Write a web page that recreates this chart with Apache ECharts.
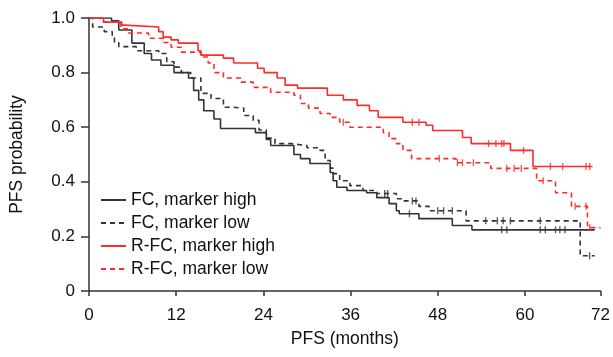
<!DOCTYPE html>
<html>
<head>
<meta charset="utf-8">
<script src="https://cdn.jsdelivr.net/npm/echarts@6/dist/echarts.min.js"></script>
<style>
  html, body { margin: 0; padding: 0; background: #fff; }
  #chart { width: 613px; height: 357px; }
</style>
</head>
<body>
<div id="chart"></div>
<script>
// x axis: ticks every 12 months; the drawn axis stops a bit short of 72
// (as in the source figure) and its end tick carries the label "72"
const xTickStep = 12;
const xAxisEnd = 70.4;
const xEndLabel = "72";

// Kaplan-Meier steps: [month, PFS probability from that month on]
const fcHigh = [
  [0, 1], [3.1, 0.99], [4.1, 0.956], [5.9, 0.908], [7.6, 0.87], [8.6, 0.846], [9.9, 0.827],
  [11.7, 0.8], [13.7, 0.78], [14.4, 0.735], [15.1, 0.7], [15.8, 0.66], [17.2, 0.63], [18.1, 0.595],
  [22.9, 0.58], [24.4, 0.555], [25.0, 0.533], [28.2, 0.5], [29.1, 0.485], [30.4, 0.467],
  [33.2, 0.434], [33.6, 0.404], [34.1, 0.38], [35.5, 0.368], [38.2, 0.36], [39.6, 0.342],
  [41.3, 0.32], [42.3, 0.294], [42.7, 0.283], [45.4, 0.265], [50.0, 0.24], [52.7, 0.224],
  [69.6, 0.224]
];
const fcLow = [
  [0, 1], [0.5, 0.967], [2.1, 0.95], [3.2, 0.93], [3.5, 0.91], [4.1, 0.895], [6.5, 0.88],
  [9.6, 0.87], [10.7, 0.84], [11.7, 0.82], [12.7, 0.8], [14.0, 0.78], [15.4, 0.724], [16.8, 0.705],
  [18.5, 0.673], [19.9, 0.67], [21.3, 0.643], [22.6, 0.625], [23.4, 0.59], [24.4, 0.56],
  [25.6, 0.54], [27.7, 0.533], [30.0, 0.525], [31.8, 0.515], [32.5, 0.478], [33.2, 0.45],
  [33.6, 0.43], [34.5, 0.404], [35.9, 0.386], [37.7, 0.368], [39.6, 0.357], [42.3, 0.338],
  [43.2, 0.33], [45.4, 0.31], [46.8, 0.294], [51.9, 0.257], [67.6, 0.129], [69.6, 0.129]
];
const rfcHigh = [
  [0, 1], [2.0, 0.985], [4.5, 0.974], [4.9, 0.967], [9.6, 0.95], [10.2, 0.93], [11.3, 0.92],
  [12.3, 0.908], [15.0, 0.88], [15.4, 0.864], [18.5, 0.853], [19.9, 0.835], [23.2, 0.816],
  [24.1, 0.8], [25.9, 0.78], [27.0, 0.754], [28.7, 0.743], [32.8, 0.717], [35.0, 0.7],
  [36.9, 0.68], [38.6, 0.66], [39.8, 0.636], [43.2, 0.618], [46.4, 0.607], [47.3, 0.588],
  [51.4, 0.562], [52.6, 0.54], [58.0, 0.515], [61.1, 0.456], [69.3, 0.456]
];
const rfcLow = [
  [0, 1], [2.0, 0.985], [4.4, 0.96], [5.4, 0.945], [8.2, 0.926], [10.2, 0.91], [11.3, 0.893],
  [12.7, 0.875], [15.4, 0.857], [16.4, 0.835], [17.2, 0.8], [18.5, 0.78], [20.9, 0.765],
  [22.6, 0.746], [25.0, 0.728], [28.2, 0.717], [29.1, 0.687], [30.2, 0.67], [31.8, 0.65],
  [33.2, 0.636], [34.5, 0.618], [35.9, 0.6], [40.5, 0.58], [41.3, 0.558], [42.3, 0.54],
  [43.2, 0.515], [44.4, 0.485], [50.5, 0.47], [55.3, 0.449], [61.6, 0.404], [64.2, 0.36],
  [66.4, 0.31], [68.6, 0.232], [70.4, 0.232]
];

// censored observations (tick marks)
const fcHighCens = [[44.1, 0.283], [56.8, 0.224], [57.5, 0.224], [62.1, 0.224], [62.8, 0.224],
  [64.2, 0.224], [64.8, 0.224], [65.5, 0.224]];
const fcLowCens = [[40.7, 0.357], [41.1, 0.357], [44.5, 0.33], [45.0, 0.33], [48.0, 0.294],
  [48.8, 0.294], [50.0, 0.294], [54.6, 0.257], [56.2, 0.257], [57.0, 0.257], [58.0, 0.257],
  [62.1, 0.257], [68.9, 0.129]];
const rfcHighCens = [[44.5, 0.618], [45.4, 0.618], [55.0, 0.54], [56.0, 0.54], [56.8, 0.54],
  [57.1, 0.54], [59.8, 0.515], [63.5, 0.456], [65.2, 0.456], [68.4, 0.456], [68.9, 0.456]];
const rfcLowCens = [[35.0, 0.618], [48.2, 0.485], [50.7, 0.47], [51.4, 0.47], [52.9, 0.47],
  [57.5, 0.449], [58.5, 0.449], [59.5, 0.449], [62.5, 0.404], [66.9, 0.31], [68.4, 0.31],
  [68.9, 0.232]];

const groupNames = ["FC, marker high", "FC, marker low", "R-FC, marker high", "R-FC, marker low"];

const black = "#333333";
const red = "#ff2a2a";
const font = "Liberation Sans, Arial, sans-serif";

const chart = echarts.init(document.getElementById("chart"));

const kmLine = (name, data, color, dashed) => ({
  name: name,
  type: "line",
  step: "end",
  data: data,
  symbol: "none",
  z: 3,
  lineStyle: { color: color, width: 1.6, type: dashed ? [5, 4] : "solid" },
  itemStyle: { color: color },
  animation: false
});

const censMarks = (data, color) => ({
  type: "scatter",
  data: data,
  symbol: "rect",
  symbolSize: [1.4, 7],
  itemStyle: { color: color },
  silent: true,
  z: 4,
  animation: false
});

chart.setOption({
  backgroundColor: "#fff",
  textStyle: { fontFamily: font },
  grid: { left: 87, right: 11, top: 18, bottom: 66 },
  legend: {
    data: groupNames,
    orient: "vertical",
    left: 100,
    top: 191,
    padding: 0,
    itemWidth: 25,
    itemHeight: 12,
    itemGap: 5,
    itemTextGap: 7,
    itemStyle: { opacity: 0 },
    textStyle: { fontSize: 17.5, color: "#111", fontFamily: font }
  },
  xAxis: {
    type: "value",
    min: 0,
    max: xAxisEnd,
    interval: xTickStep,
    name: "PFS (months)",
    nameLocation: "middle",
    nameGap: 39,
    nameTextStyle: { fontSize: 17.5, color: "#111", fontFamily: font },
    axisLine: { lineStyle: { color: black, width: 1.5 } },
    axisTick: { show: true, inside: false, length: 5, lineStyle: { color: black, width: 1.5 } },
    axisLabel: {
      fontSize: 17, color: "#111", margin: 16,
      showMaxLabel: true,
      formatter: v => (v === xAxisEnd ? xEndLabel : String(v))
    },
    splitLine: { show: false }
  },
  yAxis: {
    type: "value",
    min: 0,
    max: 1,
    interval: 0.2,
    name: "PFS probability",
    nameLocation: "middle",
    nameGap: 63,
    nameTextStyle: { fontSize: 17.5, color: "#111", fontFamily: font },
    axisLine: { show: true, lineStyle: { color: black, width: 1.5 } },
    axisTick: { show: true, inside: false, length: 8, lineStyle: { color: black, width: 1.5 } },
    axisLabel: {
      fontSize: 17, color: "#111", margin: 14,
      formatter: v => (v === 0 ? "0" : v.toFixed(1))
    },
    splitLine: { show: false }
  },
  series: [
    kmLine(groupNames[0], fcHigh, black, false),
    kmLine(groupNames[1], fcLow, black, true),
    kmLine(groupNames[2], rfcHigh, red, false),
    kmLine(groupNames[3], rfcLow, red, true),
    censMarks(fcHighCens, black),
    censMarks(fcLowCens, black),
    censMarks(rfcHighCens, red),
    censMarks(rfcLowCens, red)
  ]
});
</script>
</body>
</html>
